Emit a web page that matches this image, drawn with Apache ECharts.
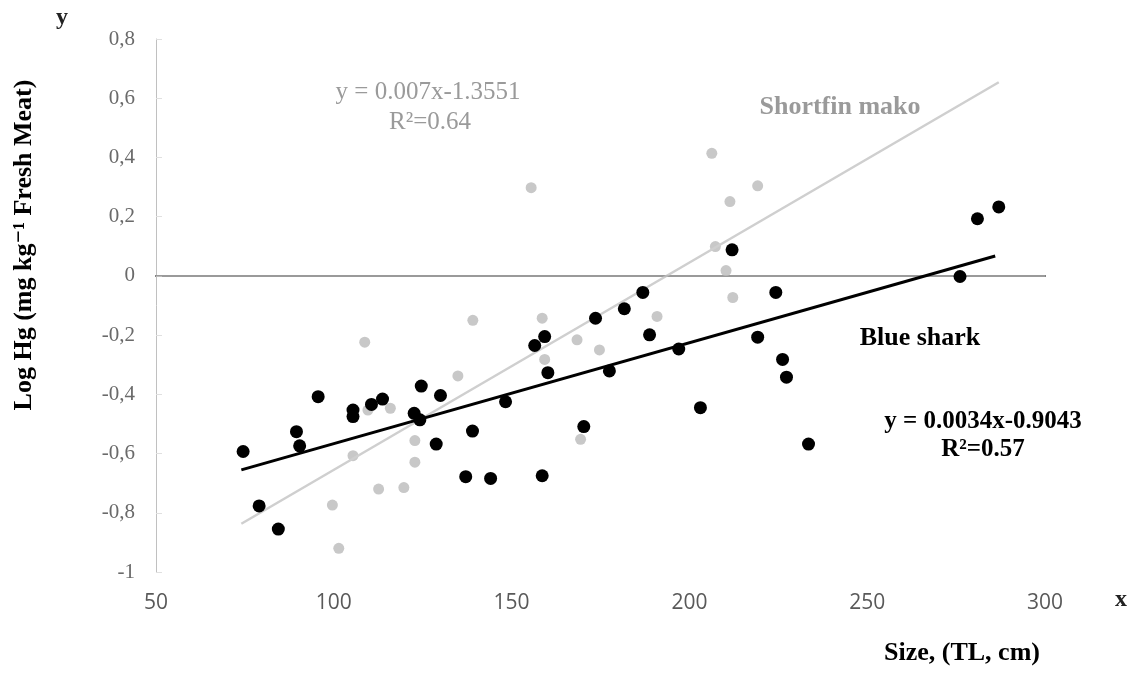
<!DOCTYPE html>
<html>
<head>
<meta charset="utf-8">
<script src="https://cdn.jsdelivr.net/npm/echarts@6/dist/echarts.min.js"></script>
<style>
  html, body { margin: 0; padding: 0; background: #fff; }
  #chart { width: 1138px; height: 673px; }
</style>
</head>
<body>
<div id="chart"></div>
<script>
// Blue shark (black points), [size cm, log Hg]
const blueShark = [
  [74.5, -0.593], [79, -0.777], [84.4, -0.855], [89.5, -0.526], [90.4, -0.574],
  [95.6, -0.408], [105.4, -0.453], [105.4, -0.475], [110.6, -0.434], [113.7, -0.416],
  [122.6, -0.464], [124.2, -0.486], [124.6, -0.372], [128.8, -0.568], [130, -0.404],
  [137.1, -0.678], [139, -0.524], [144.1, -0.684], [148.3, -0.425], [156.5, -0.235],
  [158.6, -0.675], [159.3, -0.205], [160.2, -0.327], [170.3, -0.509], [173.6, -0.143],
  [177.5, -0.321], [181.7, -0.111], [186.9, -0.056], [188.8, -0.199], [197, -0.247],
  [203.1, -0.445], [212, 0.088], [219.2, -0.207], [224.3, -0.056], [226.2, -0.282],
  [227.3, -0.342], [233.5, -0.568], [276.1, -0.002], [281, 0.193], [287, 0.233]
]

// Shortfin mako (grey points)
const shortfinMako = [
  [99.6, -0.774], [101.4, -0.92], [105.4, -0.607], [108.7, -0.224], [109.6, -0.453],
  [112.6, -0.72], [115.9, -0.447], [119.7, -0.715], [122.8, -0.556], [122.8, -0.629],
  [134.9, -0.338], [139.1, -0.15], [155.5, 0.298], [158.6, -0.143], [159.3, -0.282],
  [168.4, -0.216], [169.4, -0.552], [174.7, -0.25], [190.9, -0.137], [206.3, 0.414],
  [207.3, 0.099], [210.3, 0.018], [211.4, 0.251], [212.2, -0.073], [219.2, 0.304]
]

// trend line ends
const blueTrend = [[74, -0.655], [286, 0.067]]
const makoTrend = [[74, -0.837], [287, 0.654]]

const xTicks = { min: 50, max: 300, interval: 50 }
const yTicks = { min: -1, max: 0.8, interval: 0.2 }

const serif = '"Liberation Serif", "DejaVu Serif", serif'

const myChart = echarts.init(document.getElementById('chart'))

// centred text helper
function label(text, x, y, font, fill, extra) {
  return Object.assign({
    type: 'text',
    x, y,
    style: { text, font, fill, align: 'center', verticalAlign: 'middle' }
  }, extra || {})
}

const option = {
  animation: false,
  backgroundColor: '#fff',
  grid: {
    left: 156,
    right: 93,
    top: 39,
    bottom: 101,
    containLabel: false
  },
  xAxis: {
    type: 'value',
    min: xTicks.min,
    max: xTicks.max,
    interval: xTicks.interval,
    splitLine: { show: false },
    axisTick: { show: false },
    axisLine: { lineStyle: { color: '#595959', width: 2 } },
    axisLabel: {
      color: '#595959',
      fontSize: 21,
      fontFamily: '"Open Sans", "Liberation Sans", sans-serif',
      margin: 21
    }
  },
  yAxis: {
    type: 'value',
    min: yTicks.min,
    max: yTicks.max,
    interval: yTicks.interval,
    splitLine: { show: false },
    axisTick: { show: true, inside: true, length: 6, lineStyle: { color: '#e0e0e0' } },
    axisLine: { show: true, lineStyle: { color: '#c0c0c0', width: 1 } },
    axisLabel: {
      color: '#6a6a6a',
      fontSize: 21,
      fontFamily: serif,
      margin: 21,
      formatter: v => String(Math.round(v * 10) / 10).replace('.', ',')
    }
  },
  series: [
    {
      name: 'Shortfin mako',
      type: 'scatter',
      data: shortfinMako,
      symbolSize: 11,
      itemStyle: { color: '#c8c8c8', opacity: 1 },
      z: 2,
      markLine: {
        silent: true,
        symbol: 'none',
        label: { show: false },
        lineStyle: { color: '#b0b0b0', width: 1.5, type: 'solid' },
        data: [{ yAxis: 0 }]
      }
    },
    {
      name: 'Shortfin mako trend',
      type: 'line',
      data: makoTrend,
      symbol: 'none',
      lineStyle: { color: '#cfcfcf', width: 2.5 },
      z: 3
    },
    {
      name: 'Blue shark',
      type: 'scatter',
      data: blueShark,
      symbolSize: 13,
      itemStyle: { color: '#000', opacity: 1 },
      z: 5
    },
    {
      name: 'Blue shark trend',
      type: 'line',
      data: blueTrend,
      symbol: 'none',
      lineStyle: { color: '#000', width: 3 },
      z: 6
    }
  ],
  graphic: [
    // mako equation
    label('y = 0.007x-1.3551', 428, 92, '25px ' + serif, '#9a9a9a'),
    label('R²=0.64', 430, 122, '25px ' + serif, '#9a9a9a'),
    label('Shortfin mako', 840, 107, 'bold 26px ' + serif, '#9a9a9a'),
    // blue shark
    label('Blue shark', 920, 338, 'bold 26px ' + serif, '#000'),
    label('y = 0.0034x-0.9043', 983, 422, 'bold 25px ' + serif, '#000'),
    label('R²=0.57', 983, 450, 'bold 25px ' + serif, '#000'),
    // axis letters
    label('y', 62, 18, 'bold 24px ' + serif, '#222'),
    label('x', 1121, 600, 'bold 24px ' + serif, '#222'),
    // axis titles
    label('Size, (TL, cm)', 962, 653, 'bold 26px ' + serif, '#000'),
    label('Log Hg (mg kg⁻¹ Fresh Meat)', 24, 245, 'bold 26px ' + serif, '#000', { rotation: Math.PI / 2 })
  ]
}

myChart.setOption(option)
</script>
</body>
</html>
